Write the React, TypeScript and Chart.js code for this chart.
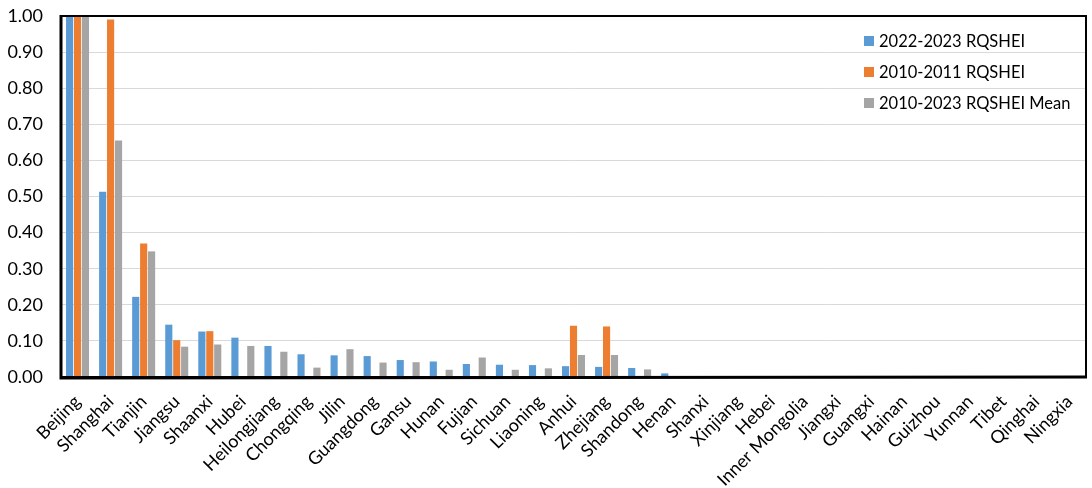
import React, { useEffect, useRef } from "react";
import { Chart, registerables } from "chart.js";

Chart.register(...registerables);

const provinces = [
  "Beijing", "Shanghai", "Tianjin", "Jiangsu", "Shaanxi", "Hubei", "Heilongjiang",
  "Chongqing", "Jilin", "Guangdong", "Gansu", "Hunan", "Fujian", "Sichuan", "Liaoning",
  "Anhui", "Zhejiang", "Shandong", "Henan", "Shanxi", "Xinjiang", "Hebei",
  "Inner Mongolia", "Jiangxi", "Guangxi", "Hainan", "Guizhou", "Yunnan", "Tibet",
  "Qinghai", "Ningxia",
];

const rq2022 = [
  1.0, 0.513, 0.222, 0.145, 0.126, 0.109, 0.086, 0.063, 0.060, 0.058, 0.047, 0.043,
  0.036, 0.034, 0.033, 0.030, 0.028, 0.025, 0.010, 0, 0, 0, 0, 0, 0, 0, 0, 0, 0, 0, 0,
];

const rq2010 = [
  1.0, 0.99, 0.37, 0.102, 0.127, 0, 0, 0, 0, 0, 0, 0, 0, 0, 0, 0.142, 0.140, 0, 0,
  0, 0, 0, 0, 0, 0, 0, 0, 0, 0, 0, 0,
];

const rqMean = [
  1.0, 0.655, 0.348, 0.084, 0.09, 0.086, 0.070, 0.026, 0.077, 0.040, 0.041, 0.020,
  0.054, 0.020, 0.024, 0.061, 0.061, 0.021, 0, 0, 0, 0, 0, 0, 0, 0, 0, 0, 0, 0, 0,
];

const seriesNames = ["2022-2023 RQSHEI", "2010-2011 RQSHEI", "2010-2023 RQSHEI Mean"];
const seriesColors = ["#5B9BD5", "#ED7D31", "#A5A5A5"];
const yTicks = [0, 0.1, 0.2, 0.3, 0.4, 0.5, 0.6, 0.7, 0.8, 0.9, 1.0];

const FONT = "Lato, 'Open Sans', sans-serif";

const framePlugin = {
  id: "frame",
  afterDatasetsDraw(chart: any) {
    const { ctx, chartArea } = chart;
    ctx.save();
    ctx.strokeStyle = "#000";
    ctx.lineWidth = 2;
    ctx.strokeRect(chartArea.left, chartArea.top, chartArea.right - chartArea.left, chartArea.bottom - chartArea.top);
    ctx.lineWidth = 3;
    ctx.beginPath();
    ctx.moveTo(chartArea.left, chartArea.top - 1);
    ctx.lineTo(chartArea.left, chartArea.bottom + 1);
    ctx.lineTo(chartArea.right + 1, chartArea.bottom);
    ctx.stroke();
    ctx.restore();
  },
};

const legendPlugin = {
  id: "insideLegend",
  afterDraw(chart: any) {
    const { ctx, chartArea } = chart;
    ctx.save();
    ctx.font = `16.5px ${FONT}`;
    ctx.textBaseline = "middle";
    ctx.fillStyle = "#000";
    const x = chartArea.right - 222;
    chart.data.datasets.forEach((ds: any, i: number) => {
      const y = chartArea.top + 25 + i * 31;
      ctx.fillStyle = ds.backgroundColor;
      ctx.fillRect(x, y - 5, 10, 10);
      ctx.fillStyle = "#000";
      ctx.fillText(ds.label, x + 15, y + 1);
    });
    ctx.restore();
  },
};

export default function App() {
  const ref = useRef<HTMLCanvasElement | null>(null);

  useEffect(() => {
    document.body.style.margin = "0";
    if (!ref.current) return;
    const series = [rq2022, rq2010, rqMean];
    const chart = new Chart(ref.current, {
      type: "bar",
      data: {
        labels: provinces,
        datasets: series.map((d, i) => ({
          label: seriesNames[i],
          data: d,
          backgroundColor: seriesColors[i],
          borderWidth: 0,
          barPercentage: 0.9,
          categoryPercentage: 0.72,
        })),
      },
      options: {
        animation: false,
        responsive: false,
        maintainAspectRatio: false,
        layout: { padding: { top: 16, right: 6, left: 0, bottom: 0 } },
        plugins: {
          legend: { display: false },
          tooltip: { enabled: false },
        },
        scales: {
          x: {
            grid: { display: false, drawTicks: false },
            border: { display: false },
            ticks: {
              color: "#000",
              font: { family: FONT, size: 18 },
              maxRotation: 45,
              minRotation: 45,
              autoSkip: false,
              padding: 14,
            },
            afterFit(scale: any) {
              scale.height = 111;
              scale.paddingLeft = 0;
              scale.paddingRight = 0;
            },
          },
          y: {
            min: 0,
            max: 1,
            afterBuildTicks(scale: any) {
              scale.ticks = yTicks.map((v) => ({ value: v }));
            },
            grid: { color: "#D9D9D9", lineWidth: 1, drawTicks: false },
            border: { display: false },
            ticks: {
              color: "#000",
              font: { family: FONT, size: 18 },
              padding: 18,
              callback: (v: any) => Number(v).toFixed(2),
            },
            afterFit(scale: any) {
              scale.width = 61;
              scale.paddingTop = 0;
              scale.paddingBottom = 0;
            },
          },
        },
      },
      plugins: [framePlugin, legendPlugin],
    });
    return () => chart.destroy();
  }, []);

  return (
    <div style={{ width: 1092, height: 488 }}>
      <canvas ref={ref} width={1092} height={488} style={{ display: "block" }} />
    </div>
  );
}
